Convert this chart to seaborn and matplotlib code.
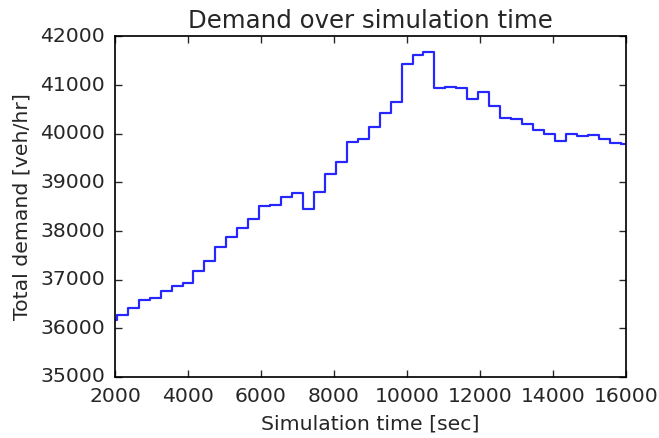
import matplotlib
matplotlib.use("Agg")
import matplotlib.pyplot as plt
import seaborn as sns
import pandas as pd

# Start time of each 300 s demand interval [sec]
interval_start = [1750, 2050, 2350, 2650, 2950, 3250, 3550, 3850, 4150, 4450,
                  4750, 5050, 5350, 5650, 5950, 6250, 6550, 6850, 7150, 7450,
                  7750, 8050, 8350, 8650, 8950, 9250, 9550, 9850, 10150, 10450,
                  10750, 11050, 11350, 11650, 11950, 12250, 12550, 12850, 13150, 13450,
                  13750, 14050, 14350, 14650, 14950, 15250, 15550, 15850]
interval_len = 300

# Total demand in each interval [veh/hr]
total_demand = [36170, 36270, 36420, 36580, 36630, 36770, 36870, 36940, 37170, 37375,
                37680, 37875, 38060, 38250, 38515, 38545, 38710, 38775, 38455, 38795,
                39165, 39425, 39830, 39885, 40140, 40435, 40655, 41430, 41620, 41690,
                40935, 40965, 40940, 40710, 40850, 40570, 40325, 40300, 40210, 40070,
                39990, 39858, 40000, 39950, 39980, 39887, 39820, 39790]

x_ticks = [2000, 4000, 6000, 8000, 10000, 12000, 14000, 16000]
y_ticks = [35000, 36000, 37000, 38000, 39000, 40000, 41000, 42000]

plt.style.use("classic")
sns.set_style("ticks", {"xtick.direction": "in", "ytick.direction": "in",
                        "axes.edgecolor": "black"})
plt.rcParams["font.family"] = ["DejaVu Sans"]
plt.rcParams["font.size"] = 12

# close the last interval so the step runs to its end
df = pd.DataFrame({
    "time": interval_start + [interval_start[-1] + interval_len],
    "demand": total_demand + [total_demand[-1]],
})

fig = plt.figure(figsize=(659 / 122, 438 / 122), dpi=122)
fig.patch.set_facecolor("white")
ax = fig.add_axes([0.1745, 0.1393, 0.7755, 0.7774])

sns.lineplot(data=df, x="time", y="demand", ax=ax, color=(0, 0, 1),
             drawstyle="steps-post", estimator=None, linewidth=1.3, alpha=0.85)

ax.set_xlim(2000, 16000)
ax.set_ylim(35000, 42000)
ax.set_xticks(x_ticks)
ax.set_yticks(y_ticks)
ax.set_xticklabels([str(t) for t in x_ticks], fontsize=12)
ax.set_yticklabels([str(t) for t in y_ticks], fontsize=12)
ax.tick_params(direction="in", top=True, right=True, length=4, width=0.8, pad=6)
for side in ax.spines.values():
    side.set_visible(True)
    side.set_color("black")
    side.set_linewidth(1.0)

ax.set_xlabel("Simulation time [sec]", fontsize=12)
ax.set_ylabel("Total demand [veh/hr]", fontsize=12)
ax.set_title("Demand over simulation time", fontsize=14.4, pad=5)

fig.savefig("out.png", dpi=122, facecolor="white")
